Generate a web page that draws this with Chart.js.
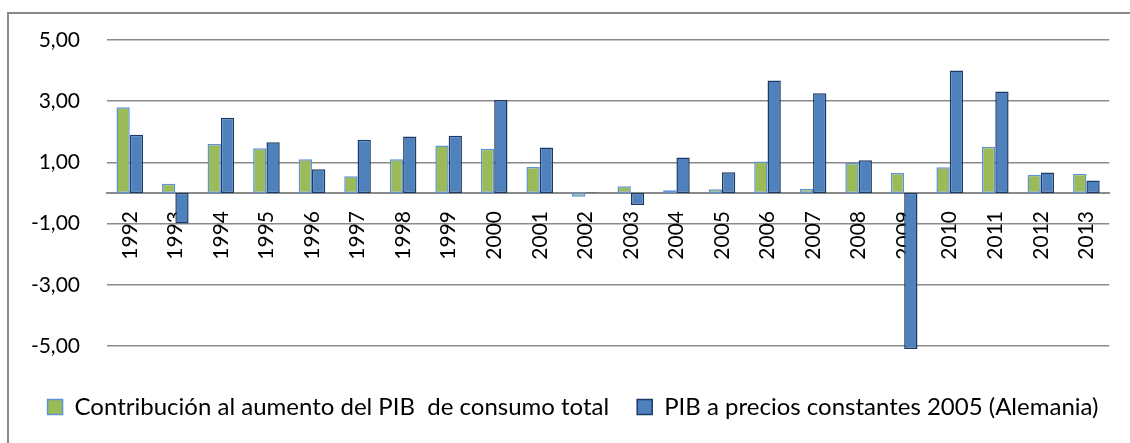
<!DOCTYPE html>
<html>
<head>
<meta charset="utf-8">
<script src="https://cdn.jsdelivr.net/npm/chart.js@4.4.1/dist/chart.umd.min.js"></script>
<style>
  html, body { margin: 0; padding: 0; background: #fff; overflow: hidden; }
  #marco { position: absolute; left: 7px; top: 12px; width: 1200px; height: 500px;
           border-left: 2px solid #8a8a8a; border-top: 2px solid #8a8a8a; }
  #caja { position: absolute; left: 0; top: 0; width: 1130px; height: 443px; }
</style>
</head>
<body>
<div id="marco"></div>
<div id="caja"><canvas id="grafico"></canvas></div>
<script>
// Años y series (variación %, Alemania)
const anios = ['1992','1993','1994','1995','1996','1997','1998','1999','2000','2001','2002',
               '2003','2004','2005','2006','2007','2008','2009','2010','2011','2012','2013'];
const consumoTotal = [2.80, 0.30, 1.60, 1.46, 1.10, 0.55, 1.10, 1.55, 1.45, 0.85, -0.12,
                      0.22, 0.09, 0.12, 1.03, 0.14, 0.98, 0.65, 0.84, 1.51, 0.60, 0.63];
const pibConstante = [1.90, -1.00, 2.46, 1.66, 0.78, 1.74, 1.85, 1.87, 3.04, 1.49, 0.02,
                      -0.39, 1.16, 0.68, 3.68, 3.26, 1.07, -5.10, 4.00, 3.32, 0.67, 0.41];
const nombres = ['Contribución al aumento del PIB  de consumo total',
                 'PIB a precios constantes 2005 (Alemania)'];

const fuente = 'Lato, "Open Sans", sans-serif';

function formato(v) {
    return v.toFixed(2).replace('.', ',');
}

new Chart(document.getElementById('grafico'), {
    type: 'bar',
    data: {
        labels: anios,
        datasets: [{
            label: nombres[0],
            data: consumoTotal,
            backgroundColor: '#9bbb59',
            borderColor: '#5f93d6',
            borderWidth: 1.5,
            borderSkipped: false
        }, {
            label: nombres[1],
            data: pibConstante,
            backgroundColor: '#4f81bd',
            borderColor: '#1b3b66',
            borderWidth: 1.5,
            borderSkipped: false,
            clip: false
        }]
    },
    options: {
        responsive: true,
        maintainAspectRatio: false,
        animation: false,
        datasets: { bar: { categoryPercentage: 0.584, barPercentage: 1 } },
        layout: { padding: { top: 40, right: 2, bottom: 14, left: 18 } },
        scales: {
            x: {
                position: { y: 0 },
                grid: { display: false, drawTicks: false },
                border: { display: true, color: '#8a8a8a', width: 2 },
                ticks: {
                    autoSkip: false, minRotation: 90, maxRotation: 90, padding: 18,
                    color: '#000', font: { family: fuente, size: 21 }
                },
                afterFit: s => { s.height = 0; }
            },
            y: {
                min: -5, max: 5,
                grid: { color: '#8a8a8a', lineWidth: 1.5, drawTicks: false },
                border: { display: false },
                ticks: {
                    stepSize: 2, padding: 27, color: '#000',
                    font: { family: fuente, size: 21 },
                    callback: v => formato(v)
                },
                afterFit: s => { s.width = 89; }
            },
            // margen derecho vacío, solo para dejar la leyenda centrada como en el original
            margen: {
                type: 'linear', position: 'right',
                grid: { display: false, drawTicks: false },
                border: { display: false },
                ticks: { display: false },
                afterFit: s => { s.width = 16; }
            }
        },
        plugins: {
            tooltip: { enabled: false },
            legend: {
                position: 'bottom',
                title: { display: true, text: '', padding: 0, font: { size: 21, lineHeight: 1 } },
                labels: {
                    boxWidth: 15, boxHeight: 15, padding: 28, color: '#000',
                    font: { family: fuente, size: 24 }
                }
            }
        }
    }
});
</script>
</body>
</html>
